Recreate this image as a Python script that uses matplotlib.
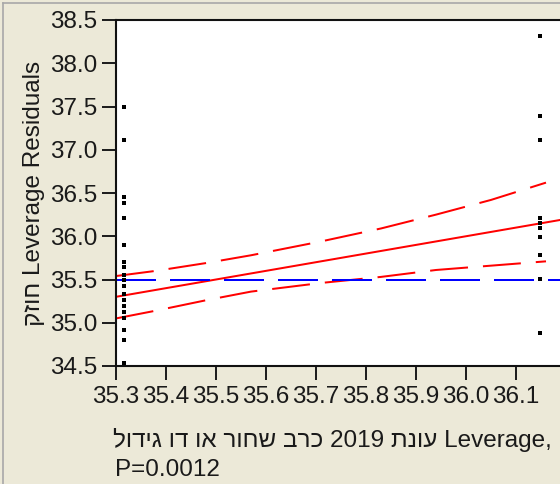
# leverage plot for the 2019 season effect, redrawn in JMP style
import matplotlib
matplotlib.use("Agg")
import matplotlib.pyplot as plt
from matplotlib.lines import Line2D

# leverage residuals of the two groups
left_x = 35.316
left_y = [37.50, 37.11, 36.45, 36.38, 36.21, 35.90, 35.70, 35.64, 35.55, 35.49,
          35.42, 35.33, 35.26, 35.19, 35.12, 35.06, 34.92, 34.80, 34.54, 34.53]
right_x = 36.148
right_y = [38.31, 37.39, 37.11, 36.21, 36.15, 36.10, 35.99, 35.78, 35.51, 34.88]

# fitted line, mean line and confidence curves
fit_x = [35.30, 36.30]
fit_y = [35.30, 36.30]
mean_y = 35.50
band_x = [35.30, 35.38, 35.48, 35.57, 35.71, 35.83, 35.94, 36.05, 36.16]
band_upper = [35.54, 35.60, 35.69, 35.78, 35.94, 36.09, 36.25, 36.42, 36.62]
band_lower = [35.05, 35.14, 35.26, 35.36, 35.46, 35.53, 35.61, 35.66, 35.71]

x_ticks = [35.3, 35.4, 35.5, 35.6, 35.7, 35.8, 35.9, 36.0, 36.1]
y_ticks = [34.5, 35.0, 35.5, 36.0, 36.5, 37.0, 37.5, 38.0, 38.5]

x_name = "עונת 2019 כרב שחור או דו גידול"
y_name = "חוזק"
p_text = "P=0.0012"


def visual(text):
    """matplotlib has no bidi, so lay the Hebrew words out right to left"""
    return " ".join(w if w.isdigit() else w[::-1] for w in reversed(text.split()))


plt.rcParams["font.family"] = ["Liberation Sans", "DejaVu Sans"]
bg = "#ECE9D8"
ink = "#1a1a1a"
fs = 17.5

fig = plt.figure(figsize=(5.6, 4.84), dpi=100, facecolor=bg)
# the panel is cut off on the right, so the axes run past the figure edge
ax = fig.add_axes([116 / 560, 118 / 484, 484 / 560, 346 / 484])
ax.set_facecolor("white")

# confidence curves and lines
dash = (0, (19, 7.5))
ax.plot(band_x, band_upper, color="red", lw=1.44, linestyle=dash)
ax.plot(band_x, band_lower, color="red", lw=1.44, linestyle=dash)
ax.plot(fit_x, fit_y, color="red", lw=1.44)
ax.axhline(mean_y, color="blue", lw=1.44, linestyle=(0, (20, 7)))

# points
ax.plot([left_x] * len(left_y), left_y, "s", color="black", ms=2.8, mew=0)
ax.plot([right_x] * len(right_y), right_y, "s", color="black", ms=2.8, mew=0)

ax.set_xlim(35.3, 35.3 + 484 / 500)
ax.set_ylim(34.5, 38.5)
ax.set_xticks(x_ticks)
ax.set_xticklabels([f"{t:.1f}" for t in x_ticks])
ax.set_yticks(y_ticks)
ax.set_yticklabels([f"{t:.1f}" for t in y_ticks])
ax.tick_params(direction="out", length=10, width=1.4, labelsize=fs,
               colors=ink, pad=3.5)
ax.tick_params(axis="x", pad=4.5)
for side in ax.spines.values():
    side.set_linewidth(1.5)
    side.set_color("#111111")

# labels
fig.text(34 / 560, 1 - 193 / 484, visual(y_name) + " Leverage Residuals",
         rotation=90, ha="center", va="center", fontsize=fs, color=ink)
fig.text(113 / 560, 1 - 440 / 484, visual(x_name) + " Leverage,",
         ha="left", va="center", fontsize=fs, color=ink)
fig.text(115 / 560, 1 - 470 / 484, p_text,
         ha="left", va="center", fontsize=fs, color=ink)

# window frame
fig.add_artist(Line2D([3 / 560, 3 / 560], [0, 1 - 3 / 484],
                      transform=fig.transFigure, color="#A8A8A8", lw=1.2))
fig.add_artist(Line2D([3 / 560, 1], [1 - 3 / 484, 1 - 3 / 484],
                      transform=fig.transFigure, color="#A8A8A8", lw=1.2))

fig.savefig("out.png", dpi=100, facecolor=bg)
